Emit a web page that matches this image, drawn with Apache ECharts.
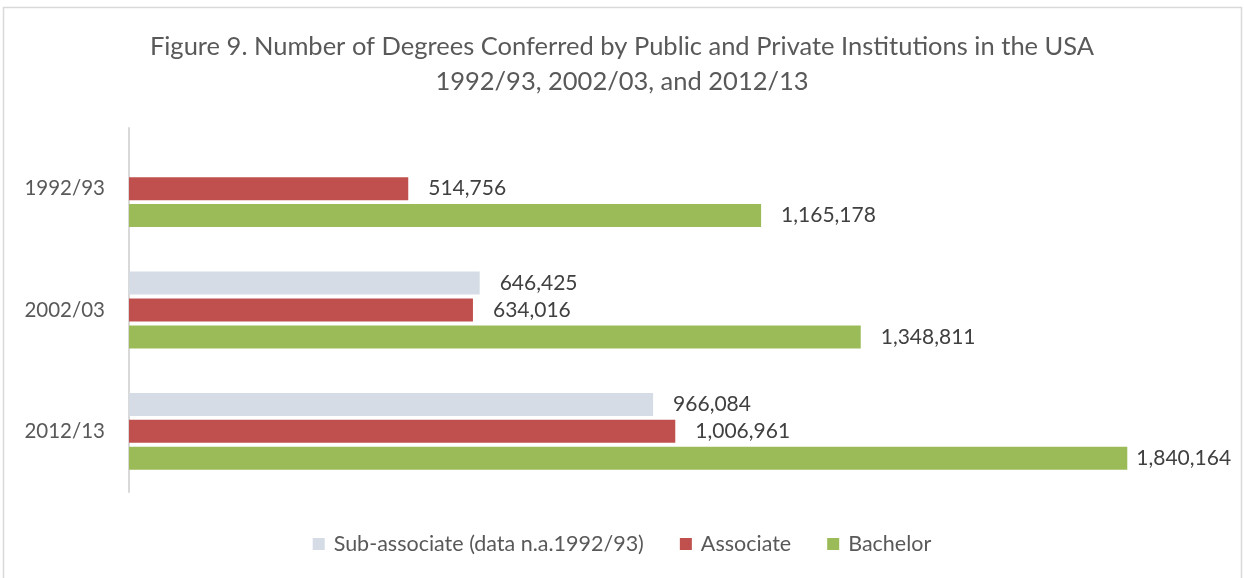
<!DOCTYPE html>
<html>
<head>
<meta charset="utf-8">
<script src="https://cdn.jsdelivr.net/npm/echarts@6/dist/echarts.min.js"></script>
<style>html,body{margin:0;padding:0;background:#fff}#c{width:1244px;height:578px}</style>
</head>
<body>
<div id="c"></div>
<script>
const categories = ['1992/93', '2002/03', '2012/13'];
const seriesNames = ['Sub-associate (data n.a.1992/93)', 'Associate', 'Bachelor'];
const subAssociate = [null, 646425, 966084];
const associate = [514756, 634016, 1006961];
const bachelor = [1165178, 1348811, 1840164];
const colors = ['#d5dce6', '#c0504d', '#9bbb59'];
const FONT = 'Lato';

const chart = echarts.init(document.getElementById('c'), null, {renderer: 'canvas'});
const fmt = v => v.value == null ? '' : Number(v.value).toLocaleString('en-US');
function mk(name, vals, color, lastDist) {
  return {
    name, type: 'bar', barWidth: 23, barGap: '17%',
    itemStyle: {color},
    label: {show: true, position: 'right', distance: 20, color: '#404040', fontSize: 21, fontFamily: FONT, formatter: fmt},
    data: vals.map((v, i) => (lastDist && i === vals.length - 1) ? {value: v, label: {distance: lastDist}} : v)
  };
}
chart.setOption({
  animation: false,
  textStyle: {fontFamily: FONT},
  graphic: [{type: 'rect', shape: {x: 3.5, y: 7.5, width: 1238, height: 600}, style: {fill: 'none', stroke: '#d9d9d9', lineWidth: 1.5}, z: -1}],
  title: {
    text: 'Figure 9. Number of Degrees Conferred by Public and Private Institutions in the USA\n1992/93, 2002/03, and 2012/13',
    left: 'center', top: 24,
    textStyle: {fontFamily: FONT, fontSize: 25.5, fontWeight: 'normal', color: '#595959', lineHeight: 35}
  },
  legend: {
    bottom: 18, left: 'center', itemWidth: 12, itemHeight: 12, itemGap: 36,
    icon: 'rect',
    textStyle: {fontFamily: FONT, fontSize: 21.5, color: '#595959', padding: [0, 0, 0, 4]},
    data: seriesNames
  },
  grid: {left: 129, right: 30, top: 128, height: 364},
  xAxis: {type: 'value', min: 0, max: 2000000, show: false},
  yAxis: {
    type: 'category', data: categories, inverse: true,
    axisLine: {lineStyle: {color: '#d9d9d9', width: 2}},
    axisTick: {show: false},
    axisLabel: {fontFamily: FONT, fontSize: 20.5, color: '#595959', margin: 24}
  },
  series: [
    mk(seriesNames[0], subAssociate, colors[0]),
    mk(seriesNames[1], associate, colors[1]),
    mk(seriesNames[2], bachelor, colors[2], 9)
  ]
});
</script>
</body>
</html>
